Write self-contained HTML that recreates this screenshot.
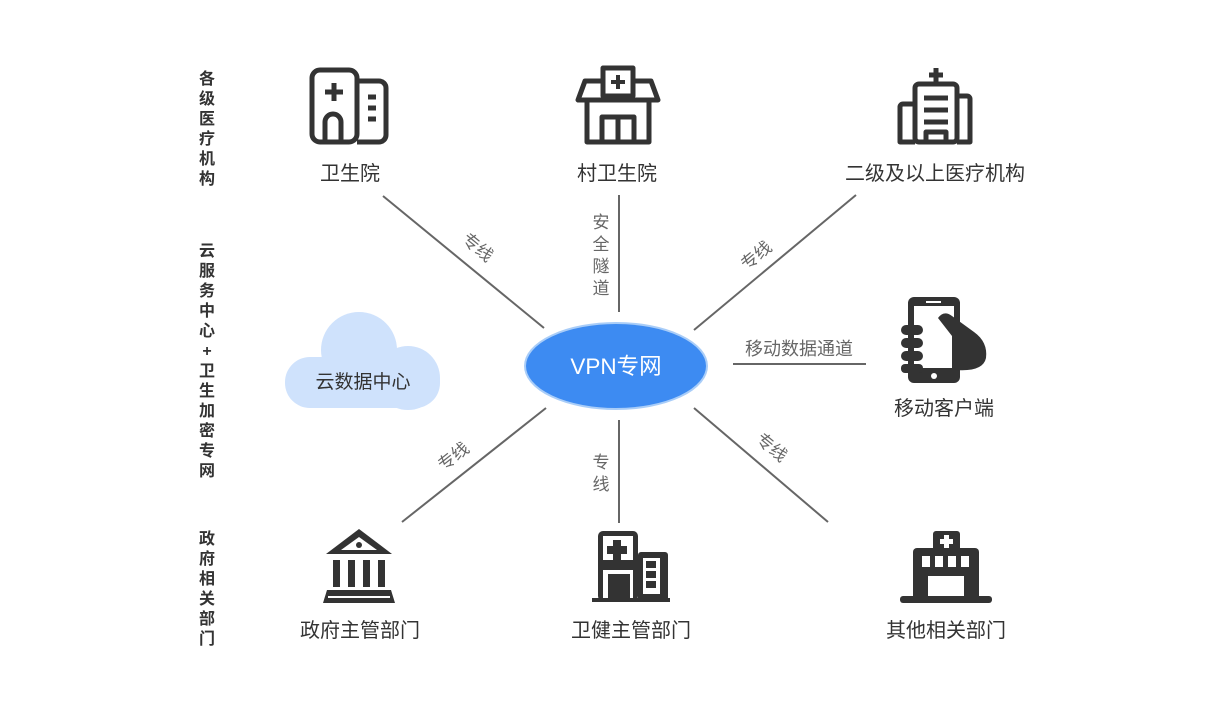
<!DOCTYPE html>
<html><head><meta charset="utf-8"><style>
body{margin:0;background:#fff;}
svg{display:block;font-family:"Liberation Sans","Noto Sans CJK SC",sans-serif;}
</style></head><body>
<svg width="1221" height="719" viewBox="0 0 1221 719" xmlns="http://www.w3.org/2000/svg">
<rect width="1221" height="719" fill="#fff"/>
<g font-size="16" font-weight="bold" fill="#333" text-anchor="middle">
<text x="207" y="84">各</text><text x="207" y="104">级</text><text x="207" y="124">医</text><text x="207" y="144">疗</text><text x="207" y="164">机</text><text x="207" y="184">构</text>
<text x="207" y="256">云</text><text x="207" y="276">服</text><text x="207" y="296">务</text><text x="207" y="316">中</text><text x="207" y="336">心</text><text x="207" y="356">+</text><text x="207" y="376">卫</text><text x="207" y="396">生</text><text x="207" y="416">加</text><text x="207" y="436">密</text><text x="207" y="456">专</text><text x="207" y="476">网</text>
<text x="207" y="544">政</text><text x="207" y="564">府</text><text x="207" y="584">相</text><text x="207" y="604">关</text><text x="207" y="624">部</text><text x="207" y="644">门</text>
</g>
<g stroke="#666" stroke-width="2">
<line x1="383" y1="196" x2="544" y2="328"/>
<line x1="619" y1="195" x2="619" y2="312"/>
<line x1="856" y1="195" x2="694" y2="330"/>
<line x1="733" y1="364" x2="866" y2="364"/>
<line x1="546" y1="408" x2="402" y2="522"/>
<line x1="619" y1="420" x2="619" y2="523"/>
<line x1="694" y1="408" x2="828" y2="522"/>
</g>
<g font-size="17" fill="#666" text-anchor="middle">
<text transform="translate(474,252) rotate(39)">专线</text>
<text transform="translate(760,260) rotate(-40)">专线</text>
<text transform="translate(457,461) rotate(-38)">专线</text>
<text transform="translate(768,452) rotate(39)">专线</text>
<text x="601" y="228">安</text><text x="601" y="250">全</text><text x="601" y="272">隧</text><text x="601" y="294">道</text>
<text x="601" y="468">专</text><text x="601" y="490">线</text>
<text x="799" y="355" font-size="18">移动数据通道</text>
</g>
<ellipse cx="616" cy="366" rx="91" ry="43" fill="#3d8bf2" stroke="#a9cdf8" stroke-width="2"/>
<text x="616" y="374" font-size="22.5" fill="#fff" text-anchor="middle">VPN专网</text>
<g fill="#cfe2fc">
<circle cx="359" cy="350" r="38"/>
<circle cx="408" cy="378" r="32"/>
<rect x="285" y="357" width="155" height="51" rx="25"/>
</g>
<text x="363" y="388" font-size="19" fill="#333" text-anchor="middle">云数据中心</text>
<g font-size="20" fill="#333" text-anchor="middle">
<text x="350" y="180">卫生院</text>
<text x="617" y="180">村卫生院</text>
<text x="935" y="180">二级及以上医疗机构</text>
<text x="944" y="415">移动客户端</text>
<text x="360" y="637">政府主管部门</text>
<text x="631" y="637">卫健主管部门</text>
<text x="946" y="637">其他相关部门</text>
</g>
<g fill="none" stroke="#333" stroke-width="5" stroke-linejoin="round">
<rect x="312" y="70" width="45" height="72" rx="8"/>
<path d="M357 81 h22 a7 7 0 0 1 7 7 v47 a7 7 0 0 1 -7 7 h-22"/>
<path d="M325 142 v-20 a8 8 0 0 1 16 0 v20"/>
<path d="M334 83 v18 M325 92 h18"/>
<path d="M368 97 h8 M368 108 h8 M368 119 h8"/>
</g>
<g fill="none" stroke="#333" stroke-width="5" stroke-linejoin="round">
<rect x="603" y="68" width="30" height="28"/>
<path d="M618 75 v14 M611 82 h14" stroke-width="4"/>
<path d="M603 81 h-18 l-7 19 h80 l-7 -19 h-18"/>
<path d="M587 100 v42 h62 v-42"/>
<path d="M602 142 v-25 h32 v25 M618 117 v25"/>
</g>
<g fill="none" stroke="#333" stroke-width="5" stroke-linejoin="round">
<path d="M936 68 v16 M929 75 h14"/>
<rect x="915" y="84" width="42" height="58" rx="4"/>
<path d="M915 104 h-12 a3 3 0 0 0 -3 3 v35 h15 M957 96 h10 a3 3 0 0 1 3 3 v43 h-13"/>
<path d="M924 98 h24 M924 110 h24 M924 122 h24"/>
<path d="M926 142 v-10 h20 v10"/>
</g>
<g fill="#333">
<rect x="908" y="297" width="52" height="86" rx="6"/>
<rect x="914" y="306" width="40" height="62" fill="#fff"/>
<circle cx="934" cy="376" r="3" fill="#fff"/>
<rect x="926" y="301" width="15" height="2" fill="#fff"/>
<path d="M938 318 q6 -8 14 -2 l22 16 q14 10 12 26 q-3 14 -30 12 h-4 v-34 z"/>
<rect x="901" y="325" width="22" height="10" rx="5"/>
<rect x="901" y="338" width="22" height="10" rx="5"/>
<rect x="901" y="351" width="22" height="10" rx="5"/>
<rect x="901" y="364" width="22" height="9" rx="4"/>
</g>
<g fill="#333">
<path d="M359 529 l33 25 h-66 z"/>
<path d="M359 537 l18 13 h-36 z" fill="#fff"/>
<circle cx="359" cy="545" r="3"/>
<rect x="333" y="560" width="7" height="27"/>
<rect x="348" y="560" width="7" height="27"/>
<rect x="363" y="560" width="7" height="27"/>
<rect x="378" y="560" width="7" height="27"/>
<path d="M327 590 h64 l4 13 h-72 z"/>
<rect x="328" y="596" width="62" height="2" fill="#fff"/>
</g>
<g fill="#333">
<rect x="598" y="531" width="40" height="70" rx="5"/>
<rect x="603" y="536" width="30" height="24" fill="#fff"/>
<path d="M613 540 h8 v6 h6 v8 h-6 v6 h-8 v-6 h-6 v-8 h6 z"/>
<rect x="603" y="570" width="30" height="31" fill="#fff"/>
<rect x="608" y="574" width="22" height="27"/>
<rect x="638" y="552" width="30" height="49" rx="3"/>
<rect x="643" y="558" width="17" height="36" fill="#fff"/>
<rect x="646" y="561" width="10" height="7"/>
<rect x="646" y="571" width="10" height="7"/>
<rect x="646" y="581" width="10" height="7"/>
<rect x="592" y="598" width="78" height="4"/>
</g>
<g fill="#333">
<rect x="933" y="531" width="27" height="20" rx="3"/>
<path d="M944 535 h5 v4 h4 v5 h-4 v4 h-5 v-4 h-4 v-5 h4 z" fill="#fff"/>
<rect x="913" y="548" width="66" height="52" rx="4"/>
<rect x="922" y="556" width="8" height="11" fill="#fff"/>
<rect x="935" y="556" width="8" height="11" fill="#fff"/>
<rect x="948" y="556" width="8" height="11" fill="#fff"/>
<rect x="961" y="556" width="8" height="11" fill="#fff"/>
<rect x="928" y="576" width="36" height="20" fill="#fff"/>
<rect x="900" y="596" width="92" height="7" rx="3"/>
</g>
</svg>
</body></html>
